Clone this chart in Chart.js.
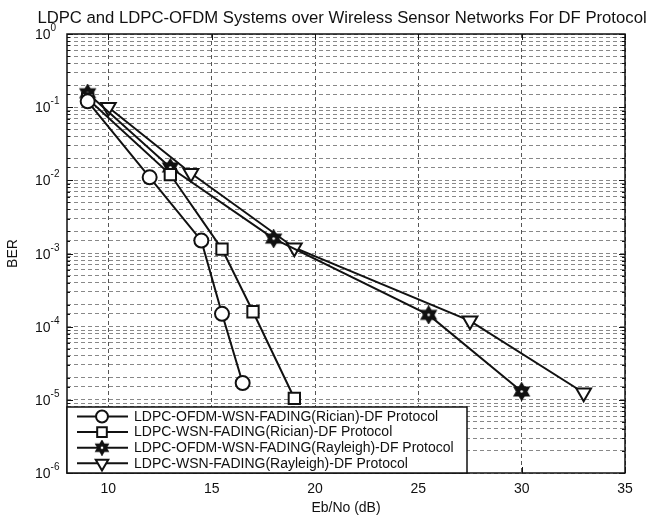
<!DOCTYPE html>
<html lang="en">
  <head>
    <meta charset="UTF-8" />
    <title>LDPC BER</title>
    <script src="https://cdn.jsdelivr.net/npm/chart.js@4.4.1/dist/chart.umd.min.js"></script>
    <style>
      body { margin: 0; background: #fff; }
      #wrap { width: 650px; height: 521px; }
    </style>
  </head>
  <body>
    <div id="wrap"><canvas id="myChart"></canvas></div>

    <script>
      // data
      const titleText = "LDPC and LDPC-OFDM Systems over Wireless Sensor Networks For DF Protocol";
      const seriesNames = [
        "LDPC-OFDM-WSN-FADING(Rician)-DF Protocol",
        "LDPC-WSN-FADING(Rician)-DF Protocol",
        "LDPC-OFDM-WSN-FADING(Rayleigh)-DF Protocol",
        "LDPC-WSN-FADING(Rayleigh)-DF Protocol",
      ];
      const ricianOfdmX = [9, 12, 14.5, 15.5, 16.5];
      const ricianOfdmY = [0.12, 0.011, 0.0015, 1.5e-4, 1.7e-5];
      const ricianX = [9, 13, 15.5, 17, 19];
      const ricianY = [0.13, 0.012, 0.00115, 1.6e-4, 1.05e-5];
      const rayleighOfdmX = [9, 13, 18, 25.5, 30];
      const rayleighOfdmY = [0.155, 0.015, 0.0016, 1.45e-4, 1.3e-5];
      const rayleighX = [10, 14, 19, 27.5, 33];
      const rayleighY = [0.1, 0.0125, 0.0012, 1.2e-4, 1.25e-5];
      const xTicks = [10, 15, 20, 25, 30, 35];

      const FONT = "'Liberation Sans', Arial, sans-serif";

      // filled hexagram marker (matlab 'h')
      function hexagram(size) {
        const c = document.createElement("canvas");
        c.width = size;
        c.height = size;
        const g = c.getContext("2d");
        const cx = size / 2, cy = size / 2, r = size / 2 - 1;
        g.fillStyle = "#111";
        g.strokeStyle = "#111";
        g.lineWidth = 1.5;
        for (let k = 0; k < 2; k++) {
          g.beginPath();
          for (let i = 0; i < 3; i++) {
            const a = (k * 60 + i * 120 - 90) * Math.PI / 180;
            const px = cx + r * Math.cos(a), py = cy + r * Math.sin(a);
            if (i === 0) g.moveTo(px, py); else g.lineTo(px, py);
          }
          g.closePath();
          g.fill();
          g.stroke();
        }
        g.fillStyle = "#fff";
        g.beginPath();
        g.arc(cx, cy, 1.3, 0, Math.PI * 2);
        g.fill();
        return c;
      }
      const starImg = hexagram(19);
      const starImgSmall = hexagram(16);

      function pts(xs, ys) {
        return xs.map((x, i) => ({ x: x, y: ys[i] }));
      }

      function ds(label, data, style, radius, rotation) {
        return {
          label: label,
          data: data,
          borderColor: "#111",
          borderWidth: 2,
          pointStyle: style,
          pointRadius: radius,
          pointRotation: rotation || 0,
          pointBorderColor: "#111",
          pointBorderWidth: 2,
          pointBackgroundColor: "#fff",
          pointHoverRadius: radius,
          tension: 0,
        };
      }

      function isDecade(v) {
        const e = Math.log10(v);
        return Math.abs(e - Math.round(e)) < 1e-6;
      }

      const framePlugin = {
        id: "frame",
        afterDatasetsDraw(chart) {
          const { ctx, chartArea } = chart;
          const a = chartArea;
          const xs = chart.scales.x, ys = chart.scales.y;
          ctx.save();

          // inward tick marks
          ctx.strokeStyle = "#111";
          ctx.lineWidth = 1;
          ctx.beginPath();
          ys.ticks.forEach((t) => {
            const y = Math.round(ys.getPixelForValue(t.value)) + 0.5;
            const len = isDecade(t.value) ? 6 : 3;
            ctx.moveTo(a.left, y); ctx.lineTo(a.left + len, y);
            ctx.moveTo(a.right, y); ctx.lineTo(a.right - len, y);
          });
          xs.ticks.forEach((t) => {
            const x = Math.round(xs.getPixelForValue(t.value)) + 0.5;
            ctx.moveTo(x, a.top); ctx.lineTo(x, a.top + 6);
            ctx.moveTo(x, a.bottom); ctx.lineTo(x, a.bottom - 6);
          });
          ctx.stroke();

          // axes box
          ctx.lineWidth = 1.5;
          ctx.strokeRect(a.left, a.top, a.right - a.left, a.bottom - a.top);

          // y labels as 10 with exponent
          ctx.fillStyle = "#111";
          ctx.textAlign = "left";
          ctx.textBaseline = "alphabetic";
          ys.ticks.forEach((t) => {
            if (!isDecade(t.value)) return;
            const y = ys.getPixelForValue(t.value);
            ctx.font = "14px " + FONT;
            ctx.fillText("10", 35, y + 5);
            const w = ctx.measureText("10").width;
            ctx.font = "10px " + FONT;
            ctx.fillText(String(Math.round(Math.log10(t.value))), 35 + w, y - 3);
          });

          // title
          ctx.font = "16.7px " + FONT;
          ctx.textAlign = "center";
          ctx.fillText(titleText, (a.left + a.right) / 2 - 4, 23);

          // legend
          const bx = a.left, bw = 400, bh = 66, by = a.bottom - bh;
          ctx.fillStyle = "#fff";
          ctx.fillRect(bx, by, bw, bh);
          ctx.lineWidth = 1.5;
          ctx.strokeRect(bx, by, bw, bh);
          ctx.font = "14px " + FONT;
          ctx.textAlign = "left";
          ctx.textBaseline = "middle";
          chart.data.datasets.forEach((d, i) => {
            const y = by + 9.5 + i * 15.6;
            ctx.strokeStyle = "#111";
            ctx.lineWidth = 2;
            ctx.beginPath();
            ctx.moveTo(bx + 10, y);
            ctx.lineTo(bx + 61, y);
            ctx.stroke();
            ctx.fillStyle = "#fff";
            Chart.helpers.drawPoint(ctx, {
              pointStyle: d.pointStyle === starImg ? starImgSmall : d.pointStyle,
              rotation: d.pointRotation,
              radius: d.pointRadius * 0.85,
              borderWidth: 2,
            }, bx + 35, y);
            ctx.fillStyle = "#111";
            ctx.fillText(d.label, bx + 67, y + 0.5);
          });
          ctx.restore();
        },
      };

      const ctx = document.getElementById("myChart");
      new Chart(ctx, {
        type: "line",
        data: {
          datasets: [
            ds(seriesNames[0], pts(ricianOfdmX, ricianOfdmY), "circle", 7),
            ds(seriesNames[1], pts(ricianX, ricianY), "rect", 8),
            ds(seriesNames[2], pts(rayleighOfdmX, rayleighOfdmY), starImg, 9),
            ds(seriesNames[3], pts(rayleighX, rayleighY), "triangle", 8.5, 180),
          ],
        },
        options: {
          responsive: true,
          maintainAspectRatio: false,
          animation: false,
          layout: { padding: { left: 0, right: 25, top: 34, bottom: 0 } },
          plugins: {
            legend: { display: false },
            tooltip: { enabled: false },
            title: { display: false },
          },
          scales: {
            x: {
              type: "linear",
              min: 8,
              max: 35,
              afterBuildTicks: (s) => { s.ticks = xTicks.map((v) => ({ value: v })); },
              afterFit: (s) => { s.height = 48; },
              grid: { color: "#555", lineWidth: 1, drawTicks: false },
              border: { display: false, dash: [4, 3] },
              ticks: {
                color: "#111",
                padding: 8,
                font: { family: FONT, size: 14 },
                maxRotation: 0,
              },
              title: {
                display: true,
                text: "Eb/No (dB)",
                color: "#111",
                font: { family: FONT, size: 14 },
                padding: { top: 0, bottom: 4 },
              },
            },
            y: {
              type: "logarithmic",
              min: 1e-6,
              max: 1,
              afterFit: (s) => { s.width = 67; },
              grid: { color: "#888", lineWidth: 1, drawTicks: false },
              border: { display: false, dash: [4, 3] },
              ticks: { display: false, autoSkip: false },
              title: {
                display: true,
                text: "BER",
                color: "#111",
                font: { family: FONT, size: 14 },
                padding: { top: 5, bottom: 0 },
              },
            },
          },
        },
        plugins: [framePlugin],
      });
    </script>
  </body>
</html>
